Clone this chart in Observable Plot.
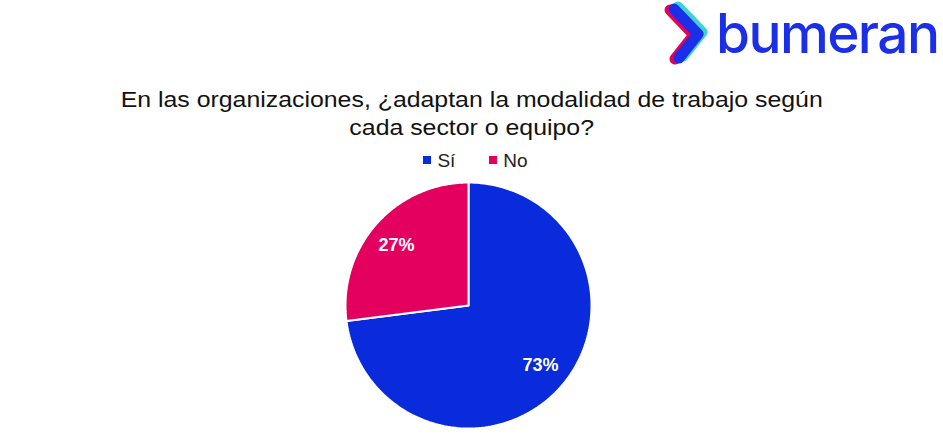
<!DOCTYPE html>
<html>
<head>
<meta charset="utf-8">
<script src="https://cdn.jsdelivr.net/npm/d3@7"></script>
<script src="https://cdn.jsdelivr.net/npm/@observablehq/plot@0.6"></script>
<style>
  html, body { margin: 0; padding: 0; background: #fff; }
  #page { position: relative; width: 943px; height: 447px; overflow: hidden; font-family: "Liberation Sans", Arial, sans-serif; }
  #logo { position: absolute; left: 662px; top: 0px; width: 60px; height: 66px; }
  #logo-text { position: absolute; left: 716px; top: 0px; line-height: normal; font-family: Inter, "Noto Sans", sans-serif; font-size: 55px; font-weight: 500; color: #1c2fe8; letter-spacing: -1.6px; white-space: nowrap; }
  #title { position: absolute; left: 0; width: 943px; top: 86px; text-align: center; font-size: 22px; line-height: 28px; color: #111; transform: scaleX(1.13); transform-origin: 470px 0; }
  #legend { position: absolute; top: 150px; left: 0; width: 943px; text-align: center; font-size: 19px; color: #222; transform: translateX(4px); }
  .sw { display: inline-block; width: 8px; height: 8px; margin-right: 6px; vertical-align: 3px; }
  .item { display: inline-block; margin: 0 17px; }
  #chart { position: absolute; left: 343px; top: 180px; }
</style>
</head>
<body>
<div id="page">
  <svg id="logo" viewBox="0 0 60 66">
    <polyline points="11,9 35,34 16,58" fill="none" stroke="#3ad3cf" stroke-width="11" stroke-linecap="round" stroke-linejoin="round" transform="translate(5,-2)"/>
    <polyline points="11,9 35,34 16,58" fill="none" stroke="#e6005c" stroke-width="11" stroke-linecap="round" stroke-linejoin="round" transform="translate(-3,1)"/>
    <polyline points="11,9 35,34 16,58" fill="none" stroke="#1c2fe8" stroke-width="11" stroke-linecap="round" stroke-linejoin="round" transform="translate(1,0)"/>
  </svg>
  <div id="logo-text">bumeran</div>
  <div id="title">En las organizaciones, ¿adaptan la modalidad de trabajo según<br>cada sector o equipo?</div>
  <div id="legend"></div>
  <div id="chart"></div>
</div>
<script>
const categories = ["Sí", "No"];
const values = [73, 27];
const labels = ["73%", "27%"];
const colors = ["#0a2bdb", "#e4005f"];

const data = categories.map((c, i) => ({cat: c, value: values[i], label: labels[i]}));
const arcs = d3.pie().sort(null).value(d => d.value)(data);

const poly = [];
const labelPts = [];
arcs.forEach(a => {
  const cat = a.data.cat;
  poly.push({cat, x: 0, y: 0});
  const n = 180;
  for (let k = 0; k <= n; k++) {
    const t = a.startAngle + (a.endAngle - a.startAngle) * k / n;
    poly.push({cat, x: Math.sin(t), y: Math.cos(t)});
  }
  poly.push({cat, x: 0, y: 0});
  const m = (a.startAngle + a.endAngle) / 2;
  labelPts.push({label: a.data.label, x: 0.78 * Math.sin(m), y: 0.74 * Math.cos(m)});
});

const R = 123, M = 2;
const chart = Plot.plot({
  width: 2 * R + 2 * M,
  height: 2 * R + 2 * M,
  margin: M,
  x: {domain: [-1, 1], axis: null},
  y: {domain: [-1, 1], axis: null},
  color: {domain: categories, range: colors},
  marks: [
    Plot.line(poly, {x: "x", y: "y", z: "cat", fill: "cat", stroke: "white", strokeWidth: 2, strokeLinejoin: "miter", curve: "linear"}),
    Plot.text(labelPts, {x: "x", y: "y", text: "label", fill: "white", fontSize: 18, fontWeight: "bold", fontFamily: "Liberation Sans, Arial, sans-serif"})
  ]
});
document.getElementById("chart").appendChild(chart);

const legend = document.getElementById("legend");
categories.forEach((c, i) => {
  const s = document.createElement("span");
  s.className = "item";
  s.innerHTML = `<span class="sw" style="background:${colors[i]}"></span>${c}`;
  legend.appendChild(s);
});
</script>
</body>
</html>
